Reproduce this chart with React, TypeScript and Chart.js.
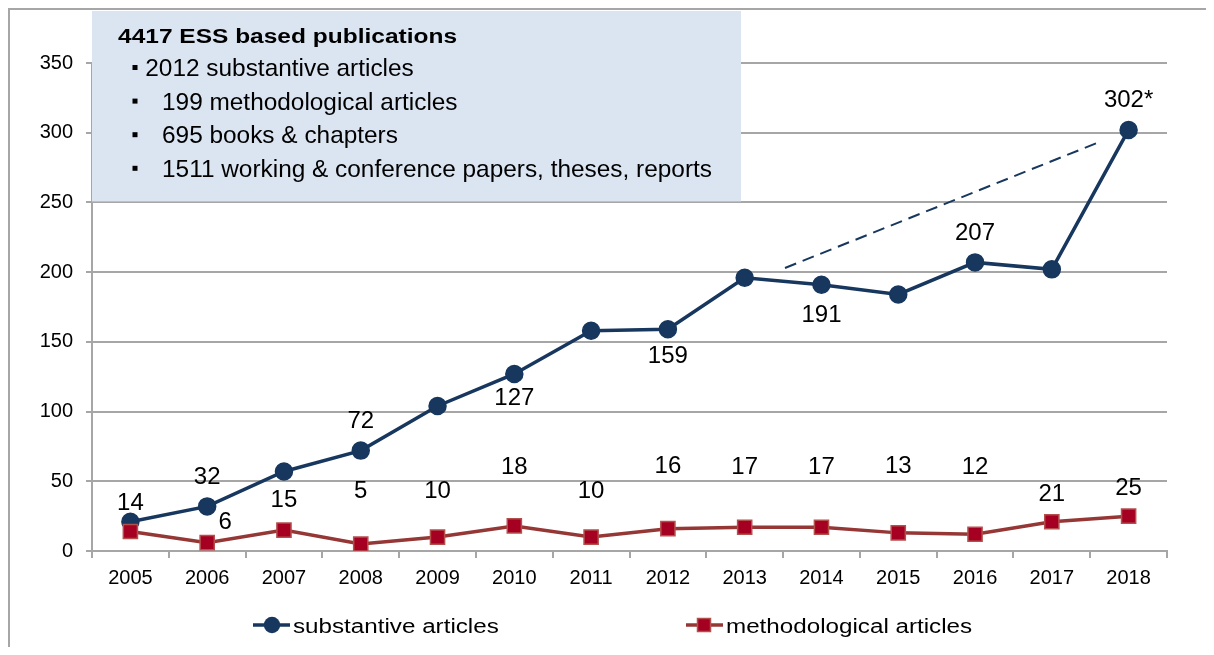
import React, { useEffect, useRef } from 'react';
import { Chart, registerables } from 'chart.js';

Chart.register(...registerables);

// ---------- data ----------
const years = ['2005', '2006', '2007', '2008', '2009', '2010', '2011', '2012', '2013', '2014', '2015', '2016', '2017', '2018'];
const substantive = [21, 32, 57, 72, 104, 127, 158, 159, 196, 191, 184, 207, 202, 302];
const methodological = [14, 6, 15, 5, 10, 18, 10, 16, 17, 17, 13, 12, 21, 25];
const substantiveLabels = [null, '32', null, '72', null, '127', null, '159', null, '191', null, '207', null, '302*'];
const methodologicalLabels = ['14', '6', '15', '5', '10', '18', '10', '16', '17', '17', '13', '12', '21', '25'];
const seriesNames = ['substantive articles', 'methodological articles'];
const yMin = 0;
const yMax = 350;
const yStep = 50;
const boxTitle = '4417 ESS based publications';
const boxItems = [
  '2012 substantive articles',
  '199 methodological articles',
  '695 books & chapters',
  '1511 working & conference papers, theses, reports',
];
// dashed trend line: from (category index, value) to (category index, value)
const trendStart = [8.525, 203];
const trendEnd = [12.65, 294];

// ---------- styles / layout ----------
const FONT = '"Liberation Sans", Arial, Helvetica, sans-serif';
const NAVY = '#17375e';
const RED_LINE = '#953735';
const RED_FILL = '#a50021';
const RED_EDGE = '#b3504d';
const GRID = '#a6a6a6';
const BOX_BG = '#dbe5f1';

// label offsets (px) relative to the point centre
const subLabelDy = [0, -29, 0, -29, 0, 24, 0, 27, 0, 31, 0, -29, 0, -30];
const methLabelOffset = [
  [0, -28.5], [18, -20.6], [0, -30], [0, -53], [0, -46], [0, -59], [0, -46],
  [0, -62], [0, -60], [0, -60], [0, -66], [0, -67], [0, -27], [0, -28],
];

function scaledText(ctx: CanvasRenderingContext2D, text: string, x: number, y: number, sx: number) {
  ctx.save();
  ctx.translate(x, y);
  ctx.scale(sx, 1);
  ctx.fillText(text, 0, 0);
  ctx.restore();
}

const overlayPlugin = {
  id: 'overlay',
  beforeDatasetsDraw(chart: any) {
    const { ctx, chartArea, scales } = chart;
    const bx = chartArea.left;
    const by = 1;
    const bw = 649;
    const bottom = scales.y.getPixelForValue(250) - 1;
    ctx.save();
    ctx.fillStyle = BOX_BG;
    ctx.fillRect(bx, by, bw, bottom - by);
    ctx.fillStyle = '#000';
    ctx.textAlign = 'left';
    ctx.textBaseline = 'alphabetic';
    ctx.font = `bold 20px ${FONT}`;
    scaledText(ctx, boxTitle, bx + 26, 32.7, 1.225);
    ctx.font = `24.4px ${FONT}`;
    boxItems.forEach((t, i) => {
      const base = 66 + i * 33.6;
      ctx.fillRect(bx + 40.5, base - 11, 5, 5);
      ctx.fillText(t, i === 0 ? bx + 53.3 : bx + 70, base);
    });
    ctx.restore();
  },
  afterDatasetsDraw(chart: any) {
    const { ctx, scales } = chart;
    const xs = scales.x;
    const ys = scales.y;
    ctx.save();
    // dashed trend line
    ctx.strokeStyle = NAVY;
    ctx.lineWidth = 2;
    ctx.setLineDash([12, 7]);
    ctx.beginPath();
    ctx.moveTo(xs.getPixelForValue(trendStart[0]), ys.getPixelForValue(trendStart[1]));
    ctx.lineTo(xs.getPixelForValue(trendEnd[0]), ys.getPixelForValue(trendEnd[1]));
    ctx.stroke();
    ctx.setLineDash([]);

    // data labels
    ctx.fillStyle = '#000';
    ctx.font = `24px ${FONT}`;
    ctx.textAlign = 'center';
    ctx.textBaseline = 'middle';
    const subMeta = chart.getDatasetMeta(0);
    subMeta.data.forEach((pt: any, i: number) => {
      const lab = substantiveLabels[i];
      if (!lab) return;
      ctx.fillText(lab, pt.x, pt.y + subLabelDy[i]);
    });
    const methMeta = chart.getDatasetMeta(1);
    methMeta.data.forEach((pt: any, i: number) => {
      const lab = methodologicalLabels[i];
      if (!lab) return;
      const [dx, dy] = methLabelOffset[i];
      ctx.fillText(lab, pt.x + dx, pt.y + dy);
    });

    // legend
    const ly = 615;
    ctx.lineWidth = 3.5;
    ctx.strokeStyle = NAVY;
    ctx.beginPath();
    ctx.moveTo(243, ly);
    ctx.lineTo(280, ly);
    ctx.stroke();
    ctx.fillStyle = NAVY;
    ctx.beginPath();
    ctx.arc(262, ly, 8.2, 0, Math.PI * 2);
    ctx.fill();

    ctx.strokeStyle = RED_LINE;
    ctx.beginPath();
    ctx.moveTo(676, ly);
    ctx.lineTo(713, ly);
    ctx.stroke();
    ctx.fillStyle = RED_FILL;
    ctx.fillRect(694 - 6.5, ly - 6.5, 13, 13);
    ctx.lineWidth = 1.5;
    ctx.strokeStyle = RED_EDGE;
    ctx.strokeRect(694 - 6.5, ly - 6.5, 13, 13);

    ctx.fillStyle = '#000';
    ctx.font = `20px ${FONT}`;
    ctx.textAlign = 'left';
    ctx.textBaseline = 'alphabetic';
    scaledText(ctx, seriesNames[0], 283, 623.3, 1.21);
    scaledText(ctx, seriesNames[1], 716, 623.3, 1.21);
    ctx.restore();
  },
};

export default function App() {
  const ref = useRef<HTMLCanvasElement | null>(null);

  useEffect(() => {
    if (!ref.current) return;
    const chart = new Chart(ref.current, {
      type: 'line',
      data: {
        labels: years,
        datasets: [
          {
            label: seriesNames[0],
            data: substantive,
            borderColor: NAVY,
            backgroundColor: NAVY,
            borderWidth: 3.5,
            pointStyle: 'circle',
            pointRadius: 8.5,
            pointBorderWidth: 1.5,
            pointBackgroundColor: NAVY,
            pointBorderColor: NAVY,
            tension: 0,
            order: 2,
          },
          {
            label: seriesNames[1],
            data: methodological,
            borderColor: RED_LINE,
            backgroundColor: RED_FILL,
            borderWidth: 3.5,
            pointStyle: 'rect',
            pointRadius: 10,
            pointBorderWidth: 1.5,
            pointBackgroundColor: RED_FILL,
            pointBorderColor: RED_EDGE,
            tension: 0,
            order: 1,
          },
        ],
      },
      options: {
        animation: false,
        responsive: false,
        devicePixelRatio: 1,
        layout: { padding: { top: 53, right: 47, left: 0, bottom: 0 } },
        plugins: {
          legend: { display: false },
          tooltip: { enabled: false },
        },
        scales: {
          x: {
            offset: true,
            grid: {
              offset: true,
              drawOnChartArea: false,
              drawTicks: true,
              tickLength: 7,
              color: GRID,
              lineWidth: 2,
            },
            border: { color: GRID, width: 2 },
            ticks: {
              color: '#000',
              font: { family: FONT, size: 20 },
              padding: 8,
              maxRotation: 0,
              autoSkip: false,
            },
            afterFit: (s: any) => {
              s.height = 96;
            },
          },
          y: {
            min: yMin,
            max: yMax,
            ticks: {
              stepSize: yStep,
              color: '#000',
              font: { family: FONT, size: 20 },
              padding: 13,
            },
            grid: { color: GRID, lineWidth: 2, tickLength: 6 },
            border: { color: GRID, width: 2 },
            afterFit: (s: any) => {
              s.width = 82;
            },
          },
        },
      },
      plugins: [overlayPlugin],
    } as any);
    return () => chart.destroy();
  }, []);

  return (
    <div
      style={{
        width: 1206,
        height: 639,
        boxSizing: 'border-box',
        borderLeft: '2px solid #a6a6a6',
        borderTop: '2px solid #a6a6a6',
        overflow: 'hidden',
        background: '#fff',
      }}
    >
      <canvas ref={ref} width={1204} height={637} style={{ display: 'block' }} />
    </div>
  );
}
